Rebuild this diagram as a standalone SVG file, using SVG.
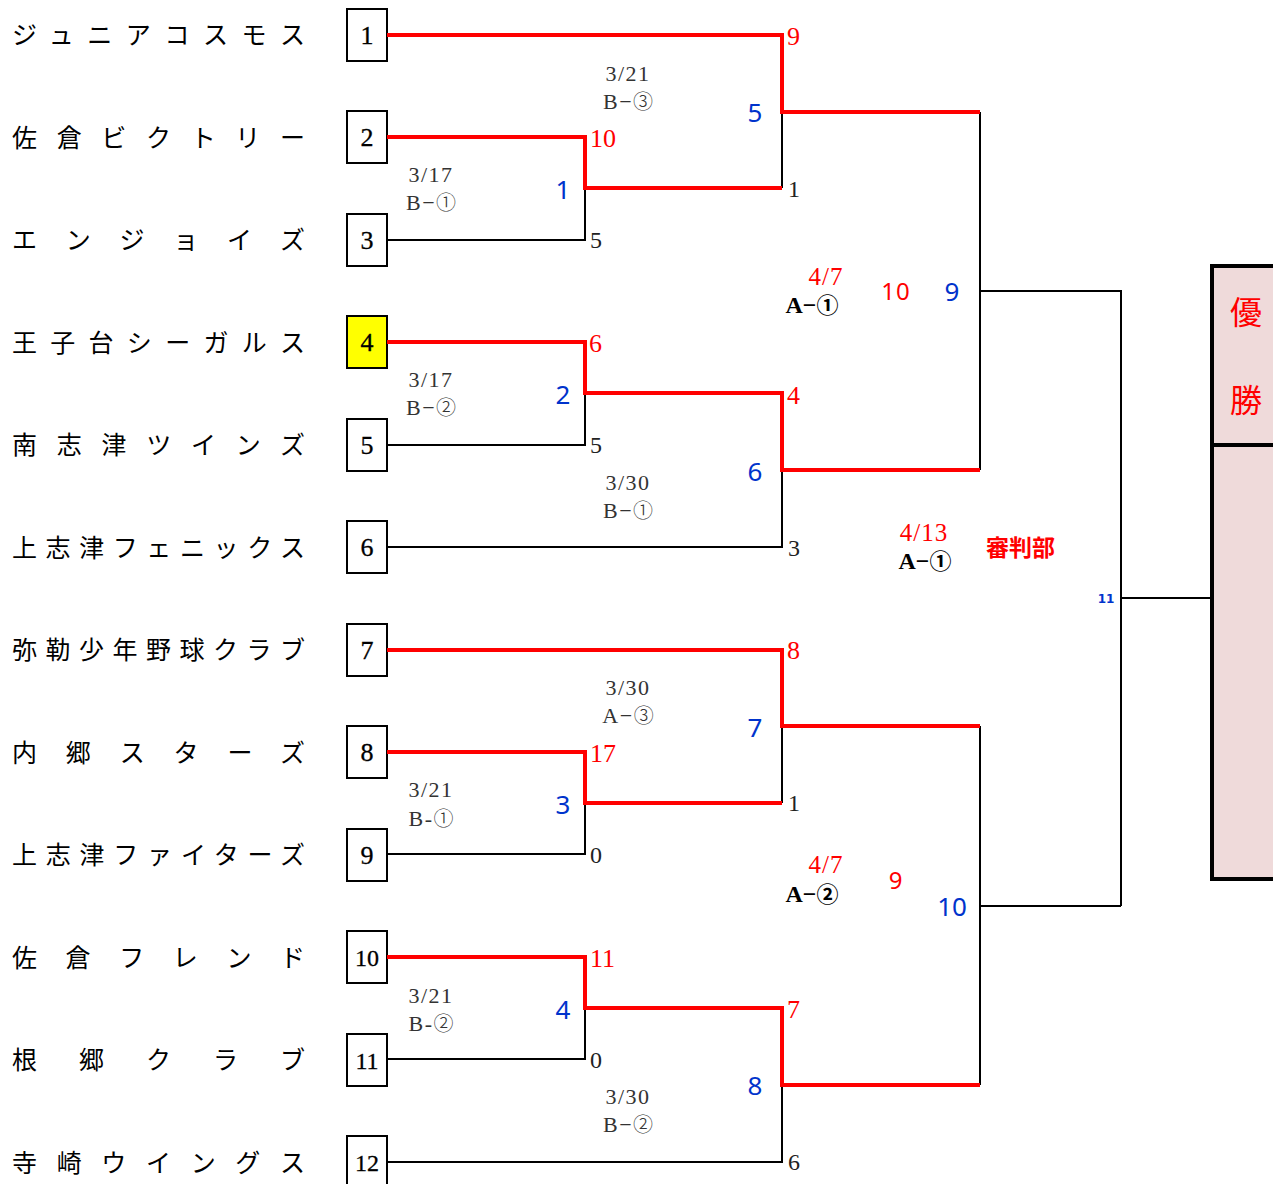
<svg xmlns="http://www.w3.org/2000/svg" width="1273" height="1184" viewBox="0 0 1273 1184">
<style>
.name{font-family:"Noto Sans CJK JP","Noto Sans CJK SC",sans-serif;font-size:25px;fill:#000}
.box{fill:#fff;stroke:#000;stroke-width:2}
.bn{font-family:"Liberation Serif",serif;font-size:26px;text-anchor:middle;fill:#000;stroke:#000;stroke-width:0.3}
.bn2{font-size:24px}
.red{fill:none;stroke:#ff0000;stroke-width:4}
.blk{fill:none;stroke:#000;stroke-width:2}
.rs{font-family:"Liberation Serif",serif;font-size:26px;fill:#ff0000}
.ls{font-family:"Liberation Serif",serif;font-size:24px;fill:#222}
.mn{font-family:"Noto Sans","Liberation Sans",sans-serif;font-size:26px;fill:#0033cc;text-anchor:middle}
.dt{font-family:"Liberation Serif",serif;font-size:22px;fill:#333;text-anchor:middle;letter-spacing:1.5px}
.c{font-family:"Noto Sans CJK JP",sans-serif;font-weight:300;letter-spacing:0;font-size:20px}
.sd{font-family:"Liberation Serif",serif;font-size:25px;fill:#ff0000;text-anchor:middle;letter-spacing:1px}
.sa{font-family:"Liberation Serif",serif;font-size:24px;font-weight:bold;fill:#000;text-anchor:middle}
.cb{font-family:"Noto Sans CJK JP",sans-serif;font-weight:bold;font-size:22px}
.fin{font-family:"Noto Sans CJK JP",sans-serif;font-size:32px;fill:#ff0000;text-anchor:middle}
</style>

<g id="teams">
<g id="team1"><text class="name" x="12" y="44" textLength="293" lengthAdjust="spacing">ジュニアコスモス</text><rect class="box" x="347" y="9" width="40" height="52"/><text class="bn" x="367" y="44">1</text></g>
<g id="team2"><text class="name" x="12" y="147" textLength="293" lengthAdjust="spacing">佐倉ビクトリー</text><rect class="box" x="347" y="111" width="40" height="52"/><text class="bn" x="367" y="146">2</text></g>
<g id="team3"><text class="name" x="12" y="249" textLength="293" lengthAdjust="spacing">エンジョイズ</text><rect class="box" x="347" y="214" width="40" height="52"/><text class="bn" x="367" y="249">3</text></g>
<g id="team4"><text class="name" x="12" y="352" textLength="293" lengthAdjust="spacing">王子台シーガルス</text><rect class="box" x="347" y="316" width="40" height="52" style="fill:#ffff00"/><text class="bn" x="367" y="351">4</text></g>
<g id="team5"><text class="name" x="12" y="454" textLength="293" lengthAdjust="spacing">南志津ツインズ</text><rect class="box" x="347" y="419" width="40" height="52"/><text class="bn" x="367" y="454">5</text></g>
<g id="team6"><text class="name" x="12" y="557" textLength="293" lengthAdjust="spacing">上志津フェニックス</text><rect class="box" x="347" y="521" width="40" height="52"/><text class="bn" x="367" y="556">6</text></g>
<g id="team7"><text class="name" x="12" y="659" textLength="293" lengthAdjust="spacing">弥勒少年野球クラブ</text><rect class="box" x="347" y="624" width="40" height="52"/><text class="bn" x="367" y="659">7</text></g>
<g id="team8"><text class="name" x="12" y="762" textLength="293" lengthAdjust="spacing">内郷スターズ</text><rect class="box" x="347" y="726" width="40" height="52"/><text class="bn" x="367" y="761">8</text></g>
<g id="team9"><text class="name" x="12" y="864" textLength="293" lengthAdjust="spacing">上志津ファイターズ</text><rect class="box" x="347" y="829" width="40" height="52"/><text class="bn" x="367" y="864">9</text></g>
<g id="team10"><text class="name" x="12" y="967" textLength="293" lengthAdjust="spacing">佐倉フレンド</text><rect class="box" x="347" y="931" width="40" height="52"/><text class="bn bn2" x="367" y="966">10</text></g>
<g id="team11"><text class="name" x="12" y="1069" textLength="293" lengthAdjust="spacing">根郷クラブ</text><rect class="box" x="347" y="1034" width="40" height="52"/><text class="bn bn2" x="367" y="1069">11</text></g>
<g id="team12"><text class="name" x="12" y="1172" textLength="293" lengthAdjust="spacing">寺崎ウイングス</text><rect class="box" x="347" y="1136" width="40" height="52"/><text class="bn bn2" x="367" y="1171">12</text></g>
</g>

<g id="connectors">
<path class="blk" d="M387 240H585V188"/>
<path class="blk" d="M782 188V112"/>
<path class="blk" d="M387 445H585V393"/>
<path class="blk" d="M387 547H782V470"/>
<path class="blk" d="M980 112V470"/>
<path class="blk" d="M980 291H1121V906"/>
<path class="blk" d="M1121 598H1212"/>
<path class="blk" d="M387 854H585V803"/>
<path class="blk" d="M782 803V726"/>
<path class="blk" d="M387 1059H585V1008"/>
<path class="blk" d="M387 1162H782V1085"/>
<path class="blk" d="M980 726V1085"/>
<path class="blk" d="M980 906H1121"/>
<path class="red" d="M387 137H585V188H782"/>
<path class="red" d="M387 35H782V112H980"/>
<path class="red" d="M387 342H585V393H782V470H980"/>
<path class="red" d="M387 650H782V726H980"/>
<path class="red" d="M387 752H585V803H782"/>
<path class="red" d="M387 957H585V1008H782V1085H980"/>
</g>

<g id="scores">
<text class="rs" x="787" y="45">9</text>
<text class="rs" x="590" y="147">10</text>
<text class="ls" x="788" y="197">1</text>
<text class="ls" x="590" y="248">5</text>
<text class="rs" x="589" y="352">6</text>
<text class="rs" x="787" y="404">4</text>
<text class="ls" x="590" y="453">5</text>
<text class="ls" x="788" y="556">3</text>
<text class="rs" x="787" y="659">8</text>
<text class="rs" x="590" y="762">17</text>
<text class="ls" x="788" y="811">1</text>
<text class="ls" x="590" y="863">0</text>
<text class="rs" x="590" y="967">11</text>
<text class="rs" x="787" y="1018">7</text>
<text class="ls" x="590" y="1068">0</text>
<text class="ls" x="788" y="1170">6</text>
</g>

<g id="match-numbers">
<text class="mn" x="755" y="122">5</text>
<text class="mn" x="563" y="199">1</text>
<text class="mn" x="563" y="404">2</text>
<text class="mn" x="755" y="481">6</text>
<text class="mn" x="755" y="737">7</text>
<text class="mn" x="563" y="814">3</text>
<text class="mn" x="563" y="1019">4</text>
<text class="mn" x="755" y="1095">8</text>
<text class="mn" x="952" y="301">9</text>
<text class="mn" x="952" y="916">10</text>
<text x="1106" y="603" style="font-family:'DejaVu Sans',sans-serif;font-size:12px;font-weight:bold;fill:#0033cc;text-anchor:middle">11</text>
</g>

<g id="dates">
<text class="dt" x="628" y="81">3/21</text><text class="dt" x="628" y="109">B−<tspan class="c">③</tspan></text>
<text class="dt" x="431" y="182">3/17</text><text class="dt" x="431" y="210">B−<tspan class="c">①</tspan></text>
<text class="dt" x="431" y="387">3/17</text><text class="dt" x="431" y="415">B−<tspan class="c">②</tspan></text>
<text class="dt" x="628" y="490">3/30</text><text class="dt" x="628" y="518">B−<tspan class="c">①</tspan></text>
<text class="dt" x="628" y="695">3/30</text><text class="dt" x="628" y="723">A−<tspan class="c">③</tspan></text>
<text class="dt" x="431" y="797">3/21</text><text class="dt" x="431" y="826">B-<tspan class="c">①</tspan></text>
<text class="dt" x="431" y="1003">3/21</text><text class="dt" x="431" y="1031">B-<tspan class="c">②</tspan></text>
<text class="dt" x="628" y="1104">3/30</text><text class="dt" x="628" y="1132">B−<tspan class="c">②</tspan></text>
</g>

<g id="semis">
<text class="sd" x="826" y="285">4/7</text><text class="sa" x="812" y="313">A−<tspan class="cb">①</tspan></text>
<text class="sd" x="896" y="300" style="font-family:'Noto Sans',sans-serif;font-size:24px">10</text>
<text class="sd" x="924" y="541">4/13</text><text class="sa" x="925" y="569">A−<tspan class="cb">①</tspan></text>
<text x="986" y="556" style="font-family:'Noto Sans CJK JP',sans-serif;font-size:23px;font-weight:bold;fill:#ff0000">審判部</text>
<text class="sd" x="826" y="873">4/7</text><text class="sa" x="812" y="902">A−<tspan class="cb">②</tspan></text>
<text class="sd" x="896" y="889" style="font-family:'Noto Sans',sans-serif;font-size:24px">9</text>
</g>

<g id="final">
<rect x="1212" y="266" width="70" height="613" style="fill:#efdada;stroke:#000;stroke-width:4"/>
<line x1="1212" y1="445" x2="1273" y2="445" style="stroke:#000;stroke-width:4"/>
<text class="fin" x="1246" y="324">優</text>
<text class="fin" x="1246" y="412">勝</text>
</g>
</svg>
